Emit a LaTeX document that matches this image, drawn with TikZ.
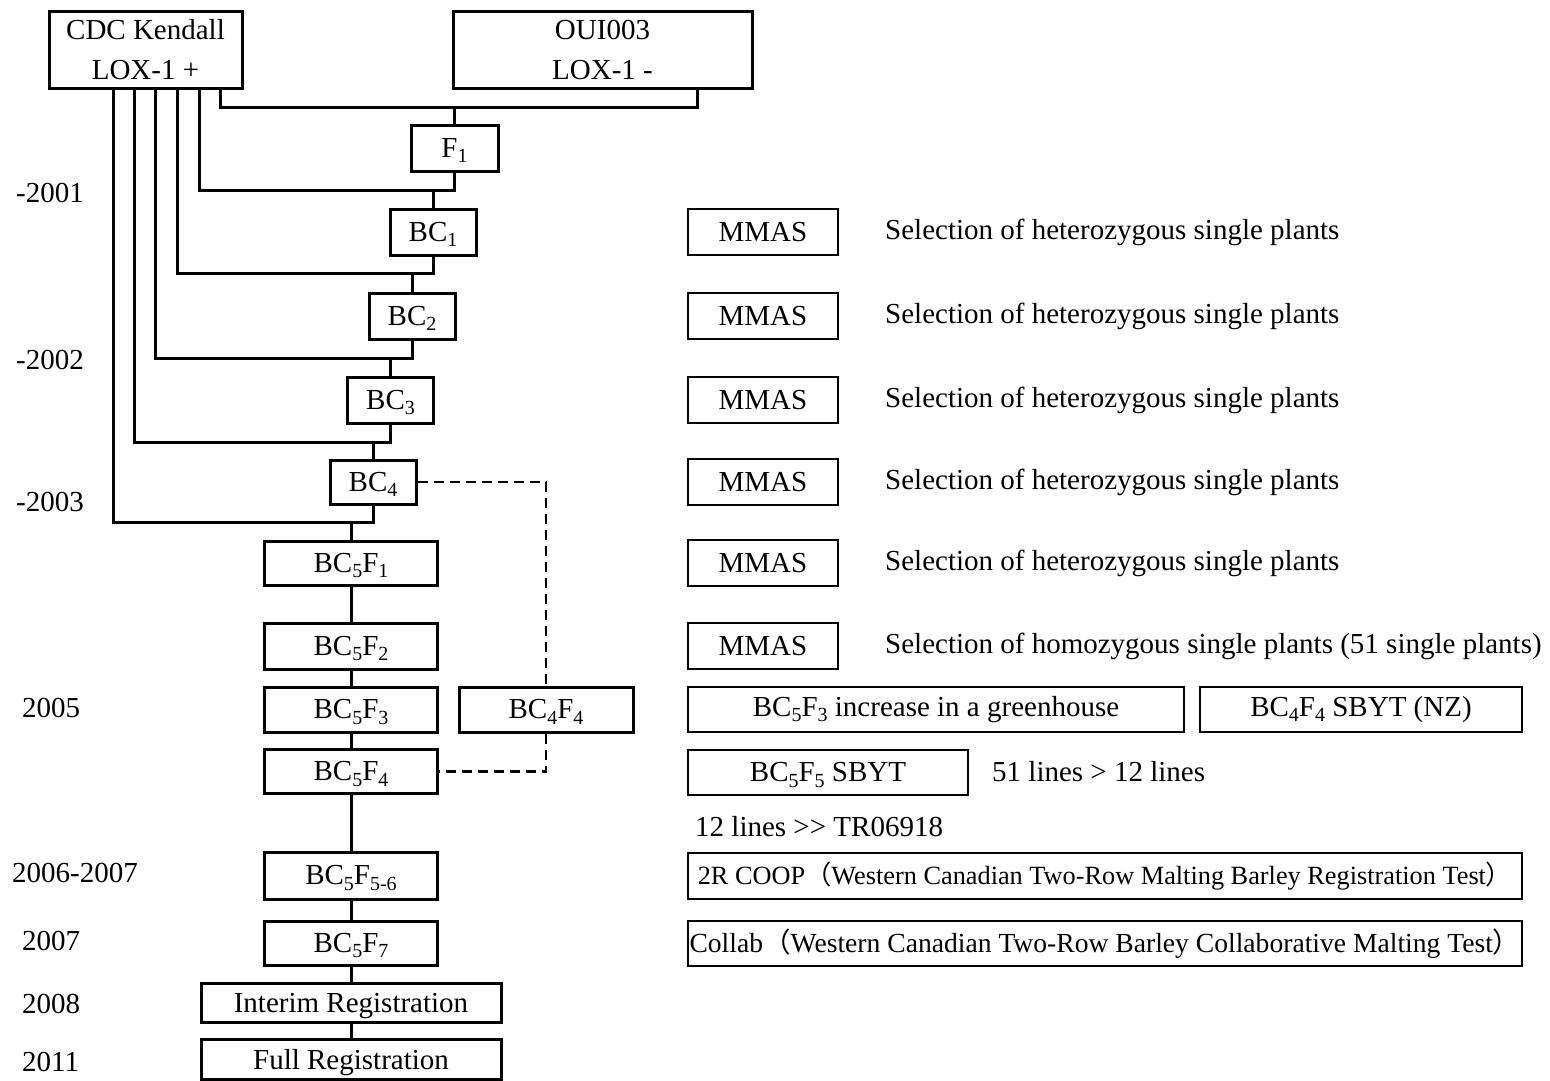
\documentclass[tikz,border=0pt]{standalone}
\usepackage{fontspec}
\setmainfont{Liberation Serif}
\newfontfamily\cjk{Noto Sans CJK SC}
\usetikzlibrary{calc}

% lowered index, set the way the original draws its subscripts
\newcommand{\lowidx}[1]{\raisebox{-5.5pt}[0pt][0pt]{\fontsize{20}{20}\selectfont #1}}

\begin{document}
\begin{tikzpicture}[
  x=1pt,
  y=-1pt,
  font=\fontsize{29}{40}\selectfont,
  stage/.style={
    draw,
    line width=3pt,
    inner sep=0pt,
    minimum width=86pt,
    minimum height=46pt
  },
  mmasbox/.style={
    draw,
    line width=2pt,
    inner sep=0pt,
    minimum width=150pt,
    minimum height=46pt
  },
  notebox/.style={
    draw,
    line width=2.5pt,
    inner sep=0pt,
    minimum height=45pt
  },
  note/.style={
    anchor=west,
    inner sep=0pt
  },
  year/.style={
    anchor=west,
    inner sep=0pt
  },
  link/.style={
    line width=3pt
  },
  dashlink/.style={
    line width=2.5pt,
    dash pattern=on 10pt off 6pt
  }
]
\useasboundingbox (0,0) rectangle (1550,1081);

% ---------------------------------------------------------------------------
% Parents and backcross generations.
% ---------------------------------------------------------------------------
\node[stage,align=center,minimum width=193pt,minimum height=76pt] (kendall)
  at (145.5,50) {CDC Kendall\\LOX-1 +};
\node[stage,align=center,minimum width=299pt,minimum height=76pt] (oui)
  at (602.5,50) {OUI003\\LOX-1 -};

\node[stage,minimum width=87pt] (f1) at (454.5,148) {F\lowidx{1}};
\node[stage] (bc1) at (433,232) {BC\lowidx{1}};
\node[stage] (bc2) at (412,316) {BC\lowidx{2}};
\node[stage] (bc3) at (390.5,400) {BC\lowidx{3}};
\node[stage,minimum height=44pt] (bc4) at (373,482) {BC\lowidx{4}};

% Selfing generations.
\node[stage,minimum width=173pt,minimum height=44pt] (bc5f1) at (351,563)
  {BC\lowidx{5}F\lowidx{1}};
\node[stage,minimum width=173pt] (bc5f2) at (351,646)
  {BC\lowidx{5}F\lowidx{2}};
\node[stage,minimum width=173pt,minimum height=45pt] (bc5f3) at (351,709.5)
  {BC\lowidx{5}F\lowidx{3}};
\node[stage,minimum width=174pt,minimum height=45pt] (bc4f4) at (546,709.5)
  {BC\lowidx{4}F\lowidx{4}};
\node[stage,minimum width=173pt,minimum height=44pt] (bc5f4) at (351,771.5)
  {BC\lowidx{5}F\lowidx{4}};
\node[stage,minimum width=173pt,minimum height=47pt] (bc5f56) at (351,875.5)
  {BC\lowidx{5}F\lowidx{5-6}};
\node[stage,minimum width=173pt,minimum height=44pt] (bc5f7) at (351,943)
  {BC\lowidx{5}F\lowidx{7}};
\node[stage,minimum width=300pt,minimum height=39pt,text depth=0pt] (interim)
  at (351,1002.5) {Interim Registration};
\node[stage,minimum width=300pt,minimum height=40pt,text depth=0pt] (full)
  at (351,1059) {Full Registration};

% Years.
\node[year] (y2001) at (16,193) {-2001};
\node[year] (y2002) at (16,360) {-2002};
\node[year] (y2003) at (16,502) {-2003};
\node[year] (y2005) at (22,708) {2005};
\node[year] (y2006) at (12,873) {2006-2007};
\node[year] (y2007) at (22,941) {2007};
\node[year] (y2008) at (22,1004) {2008};
\node[year] (y2011) at (22,1062) {2011};

% ---------------------------------------------------------------------------
% Crossing lines: the recurrent parent is brought back at every step.
% ---------------------------------------------------------------------------
\coordinate (jtop) at (697,107);
\draw[link] ([xshift=74.5pt]kendall.south) |- (jtop) -- (jtop |- oui.south);
\draw[link] (f1.north) -- (f1.north |- jtop);

\foreach \dx/\jy/\upper/\lower in {53.5/190.7/f1/bc1, 31.5/273/bc1/bc2,
    9.5/358/bc2/bc3, -11.5/442/bc3/bc4, -32.5/522/bc4/bc5f1} {
  \draw[link] ([xshift=\dx pt]kendall.south) |- (\upper.south |- 0,\jy)
    -- (\upper.south);
  \draw[link] (\lower.north) -- (\lower.north |- 0,\jy);
}

\draw[link] (bc5f1) -- (bc5f2) -- (bc5f3) -- (bc5f4) -- (bc5f56)
  -- (bc5f7) -- (interim) -- (full);

% Side branch to New Zealand.
\draw[dashlink] (bc4.east) -| (bc4f4.north);
\draw[dashlink] (bc4f4.south) |- (bc5f4.east);

% ---------------------------------------------------------------------------
% Marker-assisted selection and trials.
% ---------------------------------------------------------------------------
\foreach \i/\y in {1/232, 2/316, 3/400, 4/482, 5/563} {
  \node[mmasbox] (mmas\i) at (763,\y) {MMAS};
  \node[note] (sel\i) at (885,\y) {Selection of heterozygous single plants};
}
\node[mmasbox] (mmas6) at (763,646) {MMAS};
\node[note] (sel6) at (885,646)
  {Selection of homozygous single plants (51 single plants)};

\node[notebox,minimum width=496pt] (green) at (936,709.5)
  {BC\lowidx{5}F\lowidx{3} increase in a greenhouse};
\node[notebox,minimum width=322pt] (nz) at (1361,709.5)
  {BC\lowidx{4}F\lowidx{4} SBYT (NZ)};
\node[notebox,minimum width=280pt] (sbyt) at (828,772.5)
  {BC\lowidx{5}F\lowidx{5} SBYT};
\node[note] (lines51) at (992,772) {51 lines > 12 lines};
\node[note] (lines12) at (695,827) {12 lines >{}> TR06918};

\node[notebox,minimum width=834pt,minimum height=46pt,
      font=\fontsize{26.3}{30}\selectfont] (coop) at (1105,876)
  {2R COOP{\cjk（}Western Canadian Two-Row Malting Barley Registration Test{\cjk）}};
\node[notebox,minimum width=834pt,
      font=\fontsize{27.6}{30}\selectfont] (collab) at (1105,943.5)
  {Collab{\cjk（}Western Canadian Two-Row Barley Collaborative Malting Test{\cjk）}};

\end{tikzpicture}
\end{document}
